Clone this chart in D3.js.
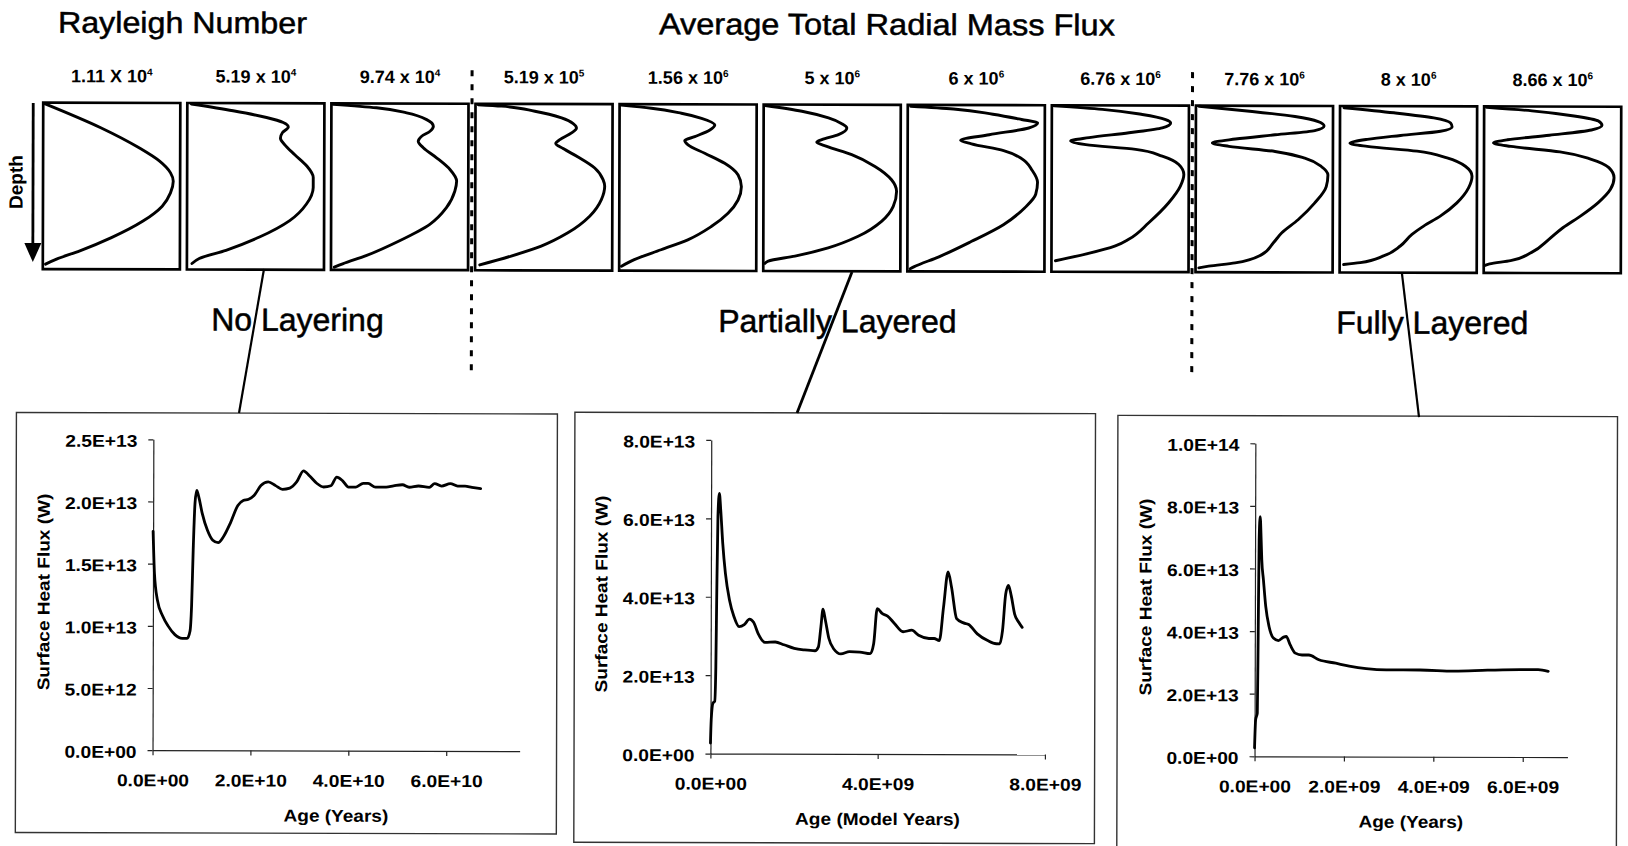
<!DOCTYPE html>
<html>
<head>
<meta charset="utf-8">
<script src="https://cdn.jsdelivr.net/npm/d3@7"></script>
<style>
  html, body { margin: 0; padding: 0; background: #fff; }
  svg { display: block; font-family: "Liberation Sans", Arial, Helvetica, sans-serif; }
</style>
</head>
<body>
<svg id="fig" width="1628" height="846"></svg>
<script>
// ---------- data ----------
const headings = ["Rayleigh Number", "Average Total Radial Mass Flux"];

// Rayleigh number of each depth profile: mantissa text and power of ten
const rayleighBase = ["1.11 X 10", "5.19 x 10", "9.74 x 10", "5.19 x 10", "1.56 x 10", "5 x 10",
                      "6 x 10", "6.76 x 10", "7.76 x 10", "8 x 10", "8.66 x 10"];
const rayleighExp = ["4", "4", "4", "5", "6", "6", "6", "6", "6", "6", "6"];

// convective regimes and the first profile index of each regime
const regimes = ["No Layering", "Partially Layered", "Fully Layered"];
const regimeStart = [0, 3, 8];

// average radial mass flux profiles: normalised depth (0 = top) and normalised flux
const profileDepth = [
  [0.006, 0.15, 0.27, 0.35, 0.42, 0.47, 0.54, 0.62, 0.71, 0.81, 0.89, 0.94, 0.97],
  [0.006, 0.046, 0.086, 0.116, 0.142, 0.176, 0.21, 0.25, 0.309, 0.375, 0.445, 0.505, 0.605, 0.705, 0.804, 0.884, 0.934, 0.964],
  [0.006, 0.026, 0.056, 0.096, 0.136, 0.166, 0.196, 0.226, 0.265, 0.325, 0.395, 0.465, 0.525, 0.625, 0.725, 0.824, 0.914, 0.964, 0.984],
  [0.006, 0.014, 0.044, 0.084, 0.118, 0.144, 0.174, 0.214, 0.238, 0.268, 0.318, 0.384, 0.454, 0.494, 0.574, 0.674, 0.774, 0.854, 0.914, 0.968],
  [0.006, 0.024, 0.054, 0.084, 0.124, 0.154, 0.194, 0.218, 0.244, 0.294, 0.354, 0.424, 0.494, 0.574, 0.654, 0.734, 0.814, 0.874, 0.934, 0.974],
  [0.006, 0.04, 0.08, 0.114, 0.14, 0.18, 0.21, 0.226, 0.25, 0.3, 0.37, 0.45, 0.52, 0.61, 0.7, 0.79, 0.86, 0.91, 0.94, 0.954],
  [0.008, 0.024, 0.055, 0.086, 0.106, 0.137, 0.178, 0.212, 0.233, 0.273, 0.32, 0.392, 0.463, 0.535, 0.616, 0.718, 0.82, 0.912, 0.973, 0.984],
  [0.004, 0.024, 0.054, 0.084, 0.104, 0.134, 0.164, 0.194, 0.214, 0.236, 0.264, 0.304, 0.354, 0.414, 0.484, 0.584, 0.704, 0.804, 0.844, 0.894, 0.934],
  [0.004, 0.034, 0.064, 0.094, 0.12, 0.148, 0.174, 0.2, 0.224, 0.244, 0.274, 0.314, 0.364, 0.414, 0.484, 0.584, 0.684, 0.764, 0.824, 0.894, 0.944, 0.964, 0.974],
  [0.01, 0.04, 0.07, 0.1, 0.124, 0.15, 0.176, 0.2, 0.224, 0.242, 0.27, 0.31, 0.36, 0.42, 0.49, 0.58, 0.66, 0.72, 0.77, 0.84, 0.9, 0.94, 0.952],
  [0.006, 0.026, 0.056, 0.086, 0.112, 0.14, 0.172, 0.2, 0.22, 0.24, 0.272, 0.316, 0.366, 0.426, 0.496, 0.576, 0.656, 0.726, 0.796, 0.876, 0.926, 0.946, 0.956]
];
const profileFlux = [
  [0.01, 0.42, 0.70, 0.85, 0.93, 0.95, 0.93, 0.87, 0.73, 0.50, 0.27, 0.10, 0.02],
  [0.03, 0.334, 0.578, 0.70, 0.737, 0.695, 0.68, 0.712, 0.785, 0.871, 0.92, 0.92, 0.871, 0.749, 0.529, 0.285, 0.09, 0.037],
  [0.012, 0.329, 0.549, 0.695, 0.744, 0.72, 0.659, 0.634, 0.671, 0.768, 0.866, 0.915, 0.902, 0.841, 0.72, 0.5, 0.256, 0.085, 0.024],
  [0.02, 0.19, 0.433, 0.628, 0.713, 0.737, 0.701, 0.616, 0.586, 0.64, 0.749, 0.871, 0.932, 0.944, 0.92, 0.835, 0.676, 0.482, 0.263, 0.034],
  [0.012, 0.232, 0.451, 0.598, 0.695, 0.659, 0.549, 0.476, 0.5, 0.622, 0.768, 0.866, 0.89, 0.866, 0.793, 0.671, 0.5, 0.305, 0.11, 0.017],
  [0.012, 0.279, 0.473, 0.57, 0.607, 0.546, 0.425, 0.388, 0.461, 0.643, 0.813, 0.934, 0.971, 0.947, 0.862, 0.692, 0.473, 0.231, 0.036, 0.012],
  [0.021, 0.334, 0.621, 0.83, 0.948, 0.883, 0.595, 0.386, 0.465, 0.70, 0.83, 0.909, 0.948, 0.935, 0.856, 0.70, 0.465, 0.23, 0.047, 0.021],
  [0.017, 0.369, 0.66, 0.83, 0.867, 0.806, 0.563, 0.272, 0.138, 0.248, 0.612, 0.806, 0.927, 0.964, 0.939, 0.854, 0.709, 0.563, 0.466, 0.248, 0.029],
  [0.024, 0.41, 0.723, 0.892, 0.935, 0.867, 0.578, 0.289, 0.12, 0.241, 0.578, 0.795, 0.916, 0.964, 0.952, 0.867, 0.747, 0.627, 0.566, 0.482, 0.289, 0.096, 0.024],
  [0.029, 0.393, 0.684, 0.806, 0.818, 0.733, 0.442, 0.199, 0.073, 0.199, 0.563, 0.782, 0.915, 0.964, 0.939, 0.854, 0.733, 0.612, 0.527, 0.442, 0.32, 0.15, 0.029],
  [0.018, 0.349, 0.656, 0.834, 0.86, 0.783, 0.477, 0.171, 0.069, 0.196, 0.554, 0.783, 0.911, 0.949, 0.923, 0.834, 0.707, 0.579, 0.477, 0.349, 0.196, 0.043, 0.005]
];

// surface heat flux histories (age in units of 1e10 or 1e9 years, flux in units of 1e13 W)
const nlAge = [0, 0.03, 0.09, 0.2, 0.31, 0.45, 0.6, 0.7, 0.76, 0.79, 0.82, 0.855, 0.89, 0.93, 1.0, 1.11, 1.22, 1.33, 1.44, 1.58,
               1.73, 1.84, 1.95, 2.06, 2.2, 2.35, 2.5, 2.64, 2.79, 2.93, 3.07, 3.19, 3.34, 3.48, 3.63, 3.75, 3.87, 3.99, 4.14, 4.29,
               4.39, 4.54, 4.76, 4.91, 5.09, 5.23, 5.42, 5.64, 5.75, 5.89, 6.07, 6.22, 6.37, 6.51, 6.69];
const nlFlux = [1.76, 1.42, 1.21, 1.08, 1.0, 0.93, 0.9, 0.9, 0.96, 1.16, 1.61, 1.99, 2.09, 2.04, 1.91, 1.77, 1.69, 1.67, 1.72, 1.83,
                1.97, 2.01, 2.02, 2.05, 2.13, 2.16, 2.13, 2.10, 2.11, 2.16, 2.25, 2.21, 2.15, 2.12, 2.13, 2.20, 2.17, 2.12, 2.12, 2.15,
                2.15, 2.12, 2.12, 2.13, 2.14, 2.12, 2.13, 2.12, 2.15, 2.13, 2.15, 2.13, 2.13, 2.12, 2.11];
const plAge = [0, 0.017, 0.058, 0.099, 0.124, 0.14, 0.165, 0.198, 0.231, 0.281, 0.347, 0.446, 0.553, 0.677, 0.801, 0.925,
               1.024, 1.131, 1.296, 1.544, 1.751, 1.998, 2.246, 2.494, 2.576, 2.634, 2.684, 2.741, 2.824, 2.948, 3.113, 3.32,
               3.567, 3.815, 3.898, 3.98, 4.104, 4.228, 4.393, 4.6, 4.806, 4.971, 5.219, 5.343, 5.467, 5.566, 5.673, 5.756,
               5.879, 6.045, 6.168, 6.375, 6.623, 6.829, 6.912, 6.978, 7.052, 7.118, 7.184, 7.267, 7.366, 7.448];
const plFlux = [0.27, 0.87, 1.29, 1.33, 2.22, 3.92, 6.05, 6.64, 6.22, 5.37, 4.6, 3.92, 3.5, 3.24, 3.29, 3.43,
                3.35, 3.07, 2.84, 2.85, 2.78, 2.69, 2.65, 2.63, 2.73, 3.24, 3.69, 3.41, 2.95, 2.67, 2.55, 2.61,
                2.6, 2.56, 2.82, 3.71, 3.58, 3.52, 3.33, 3.12, 3.16, 3.03, 2.95, 2.95, 2.9, 3.75, 4.65, 4.26,
                3.46, 3.35, 3.31, 3.07, 2.9, 2.82, 2.82, 3.16, 4.09, 4.31, 4.05, 3.58, 3.37, 3.24];
const flAge = [0, 0.023, 0.06, 0.075, 0.091, 0.113, 0.136, 0.151, 0.189, 0.242, 0.317, 0.415, 0.528, 0.642, 0.702,
               0.792, 0.906, 1.057, 1.208, 1.434, 1.811, 2.113, 2.491, 2.943, 3.698, 4.453, 5.208, 5.962, 6.34, 6.566];
const flFlux = [0.27, 1.17, 1.38, 3.94, 6.91, 7.66, 6.91, 6.28, 5.64, 4.79, 4.15, 3.78, 3.70, 3.81, 3.83,
                3.56, 3.30, 3.24, 3.24, 3.09, 2.98, 2.89, 2.81, 2.77, 2.77, 2.74, 2.77, 2.79, 2.79, 2.74];

// axis ticks (same units as the series)
const nlAgeTicks = [0, 2, 4, 6];
const nlFluxTicks = [0, 0.5, 1.0, 1.5, 2.0, 2.5];
const plAgeTicks = [0, 4, 8];
const plFluxTicks = [0, 2, 4, 6, 8];
const flAgeTicks = [0, 2, 4, 6];
const flFluxTicks = [0, 2, 4, 6, 8, 10];

const xTitles = ["Age (Years)", "Age (Model Years)", "Age (Years)"];
const yTitle = "Surface Heat Flux (W)";

// ---------- helpers ----------
function fmtE(v) {
  if (v === 0) return "0.0E+00";
  let e = Math.floor(Math.log10(Math.abs(v)) + 1e-9);
  let m = v / Math.pow(10, e);
  if (Math.round(m * 10) / 10 >= 10) { e += 1; m /= 10; }
  return m.toFixed(1) + "E" + (e < 0 ? "-" : "+") + String(Math.abs(e)).padStart(2, "0");
}
function stretch(sel, k) {
  sel.each(function () {
    const w = this.getComputedTextLength();
    d3.select(this).attr("textLength", w * k).attr("lengthAdjust", "spacingAndGlyphs");
  });
}
// slightly heavier glyphs, as in the printed figure
function heavy(sel, w) {
  sel.attr("stroke", "#000").attr("stroke-width", w).attr("stroke-linejoin", "round");
}

// ---------- drawing ----------
const svg = d3.select("#fig");
svg.append("rect").attr("width", 1628).attr("height", 846).attr("fill", "#fff");
const root = svg.append("g").attr("transform", "rotate(0.15)");

// headings
heavy(root.append("text").attr("x", 58).attr("y", 32.5).attr("font-size", 30)
  .attr("textLength", 249).attr("lengthAdjust", "spacingAndGlyphs").text(headings[0]), 0.5);
heavy(root.append("text").attr("x", 659).attr("y", 32.5).attr("font-size", 30)
  .attr("textLength", 456).attr("lengthAdjust", "spacingAndGlyphs").text(headings[1]), 0.5);

// depth profiles
const band = d3.scaleBand().domain(d3.range(rayleighBase.length))
  .range([43.5, 1621.5]).paddingInner(0.0486);
const bw = band.bandwidth();
const boxTop = 102.5, boxBottom = 269;
const depthY = d3.scaleLinear().domain([0, 1]).range([boxTop, boxBottom]);

rayleighBase.forEach((lab, i) => {
  const x0 = band(i);
  const fx = d3.scaleLinear().domain([0, 1]).range([x0, x0 + bw]);
  const g = root.append("g");
  g.append("rect").attr("x", x0).attr("y", boxTop).attr("width", bw).attr("height", boxBottom - boxTop)
    .attr("fill", "none").attr("stroke", "#000").attr("stroke-width", 2.7);
  const line = d3.line()
    .x((d, j) => fx(profileFlux[i][j]))
    .y(d => depthY(d))
    .curve(d3.curveMonotoneY);
  g.append("path").attr("d", line(profileDepth[i]))
    .attr("fill", "none").attr("stroke", "#000").attr("stroke-width", 2.9)
    .attr("stroke-linejoin", "round").attr("stroke-linecap", "round");
  const t = g.append("text").attr("x", x0 + bw / 2).attr("y", 82)
    .attr("text-anchor", "middle").attr("font-size", 18).attr("font-weight", "bold");
  t.append("tspan").text(lab);
  t.append("tspan").attr("dy", -7).attr("font-size", 10).text(rayleighExp[i]);
});

// depth arrow
root.append("line").attr("x1", 33.5).attr("y1", 103).attr("x2", 33.5).attr("y2", 248)
  .attr("stroke", "#000").attr("stroke-width", 2.8);
root.append("path").attr("d", "M25,243 L42,243 L33.5,262 Z").attr("fill", "#000");
root.append("text").attr("transform", "translate(16.5,182) rotate(-90)")
  .attr("text-anchor", "middle").attr("dominant-baseline", "central")
  .attr("font-size", 19).attr("font-weight", "bold").text("Depth");

// regime dividers
regimeStart.slice(1).forEach(k => {
  const xd = (band(k - 1) + bw + band(k)) / 2;
  root.append("line").attr("x1", xd).attr("x2", xd).attr("y1", 69).attr("y2", 377)
    .attr("stroke", "#000").attr("stroke-width", 3).attr("stroke-dasharray", "6,8");
});

// regime labels
const regimeLabelX = [212, 719, 1337];
regimes.forEach((r, i) => {
  heavy(root.append("text").attr("x", regimeLabelX[i]).attr("y", 330).attr("font-size", 32).text(r), 0.5);
});

// heat-flux panels
const FONT = '"Liberation Sans", Arial, Helvetica, sans-serif';
const panels = [
  { age: nlAge, flux: nlFlux, ageUnit: 1e10, ageMax: 7.5, fluxMax: 2.5, xt: nlAgeTicks, yt: nlFluxTicks,
    frame: [17.5, 412.5, 558.5, 832.5], px: [154.5, 521.6], py: [749.8, 438.9], link: [[264.7, 268.3], [240.1, 412.4]], lw: 2.2 },
  { age: plAge, flux: plFlux, ageUnit: 1e9, ageMax: 8, fluxMax: 8, xt: plAgeTicks, yt: plFluxTicks,
    frame: [576, 410.8, 1096.6, 840.8], px: [712.4, 1046.9], py: [751.7, 438.1], link: [[852.7, 269.8], [798.1, 410.9]], lw: 2.8 },
  { age: flAge, flux: flFlux, ageUnit: 1e9, ageMax: 7, fluxMax: 10, xt: flAgeTicks, yt: flFluxTicks,
    frame: [1119, 412.4, 1618.6, 860], px: [1256.5, 1569.4], py: [753, 440], link: [[1402.7, 270.3], [1420.1, 413.3]], lw: 2.2 }
];

panels.forEach((p, i) => {
  const g = root.append("g");
  const [fx0, fy0, fx1, fy1] = p.frame;
  g.append("rect").attr("x", fx0).attr("y", fy0).attr("width", fx1 - fx0).attr("height", fy1 - fy0)
    .attr("fill", "none").attr("stroke", "#333").attr("stroke-width", 1.4);

  // connector from the representative profile down to its panel
  root.append("line").attr("x1", p.link[0][0]).attr("y1", p.link[0][1])
    .attr("x2", p.link[1][0]).attr("y2", p.link[1][1])
    .attr("stroke", "#000").attr("stroke-width", p.lw);

  const x = d3.scaleLinear().domain([0, p.ageMax]).range(p.px);
  const y = d3.scaleLinear().domain([0, p.fluxMax]).range(p.py);

  const xa = g.append("g").attr("transform", `translate(0,${p.py[0]})`)
    .call(d3.axisBottom(x).tickValues(p.xt).tickSize(5).tickSizeOuter(0)
      .tickFormat(v => fmtE(v * p.ageUnit)));
  const ya = g.append("g").attr("transform", `translate(${p.px[0]},0)`)
    .call(d3.axisLeft(y).tickValues(p.yt).tickSize(5).tickSizeOuter(0)
      .tickFormat(v => fmtE(v * 1e13)));
  [xa, ya].forEach(a => {
    a.attr("font-family", FONT).attr("font-size", 17).attr("font-weight", "bold").attr("color", "#222");
    a.selectAll("path, line").attr("stroke-width", 1.2);
    a.selectAll("text").attr("fill", "#000");
  });
  xa.selectAll(".tick text").attr("y", 36).attr("dy", 0);
  ya.selectAll(".tick text").attr("x", -16).attr("dy", "0.42em");
  stretch(xa.selectAll(".tick text"), 1.13);
  stretch(ya.selectAll(".tick text"), 1.13);

  const line = d3.line().x((d, j) => x(p.age[j])).y(d => y(d)).curve(d3.curveMonotoneX);
  g.append("path").attr("d", line(p.flux)).attr("fill", "none").attr("stroke", "#000")
    .attr("stroke-width", 2.8).attr("stroke-linejoin", "round").attr("stroke-linecap", "round");

  const xt = g.append("text").attr("x", (p.px[0] + p.px[1]) / 2).attr("y", p.py[0] + 71)
    .attr("text-anchor", "middle").attr("font-size", 17).attr("font-weight", "bold").text(xTitles[i]);
  stretch(xt, 1.12);
  const yc = (p.py[0] + p.py[1]) / 2 - 2.5;
  const ytl = g.append("text").attr("transform", `translate(${p.px[0] - 109},${yc}) rotate(-90)`)
    .attr("text-anchor", "middle").attr("dominant-baseline", "central")
    .attr("font-size", 17).attr("font-weight", "bold").text(yTitle);
  stretch(ytl, 1.12);
});
</script>
</body>
</html>
